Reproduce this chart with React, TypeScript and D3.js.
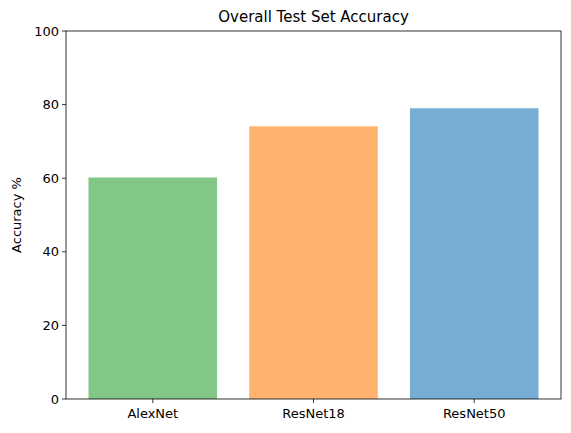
import * as d3 from "d3";

const categories = ["AlexNet", "ResNet18", "ResNet50"];
const accuracy = [60.2, 74.1, 79.0];
const colors = ["#82c785", "#ffb36e", "#77acd3"];
const yTicks = [0, 20, 40, 60, 80, 100];

export default function App() {
  const W = 571, H = 433;
  const m = { top: 31, right: 10, bottom: 34, left: 66 };
  const x = d3.scaleLinear().domain([-0.54, 2.54]).range([m.left, W - m.right]);
  const y = d3.scaleLinear().domain([0, 100]).range([H - m.bottom, m.top]);
  const font = "DejaVu Sans, sans-serif";
  return (
    <svg width={W} height={H} style={{ position: "absolute", left: 0, top: 0 }} fontFamily={font}>
      <rect width={W} height={H} fill="#fff" />
      {categories.map((c, i) => (
        <rect key={c} x={x(i - 0.4)} width={x(0.4) - x(-0.4)} y={y(accuracy[i])}
          height={y(0) - y(accuracy[i])} fill={colors[i]} />
      ))}
      <rect x={m.left} y={m.top} width={W - m.right - m.left} height={H - m.bottom - m.top}
        fill="none" stroke="#000" strokeWidth={0.8} />
      {yTicks.map(t => (
        <g key={t}>
          <line x1={m.left - 4} x2={m.left} y1={y(t)} y2={y(t)} stroke="#000" strokeWidth={0.8} />
          <text x={m.left - 7} y={y(t)} dy="0.35em" textAnchor="end" fontSize={13}>{t}</text>
        </g>
      ))}
      {categories.map((c, i) => (
        <g key={c}>
          <line x1={x(i)} x2={x(i)} y1={y(0)} y2={y(0) + 4} stroke="#000" strokeWidth={0.8} />
          <text x={x(i)} y={y(0) + 19} textAnchor="middle" fontSize={13}>{c}</text>
        </g>
      ))}
      <text transform={`translate(21,${(m.top + H - m.bottom) / 2}) rotate(-90)`} textAnchor="middle" fontSize={13}>Accuracy %</text>
      <text x={(m.left + W - m.right) / 2} y={22} textAnchor="middle" fontSize={15}>Overall Test Set Accuracy</text>
    </svg>
  );
}
